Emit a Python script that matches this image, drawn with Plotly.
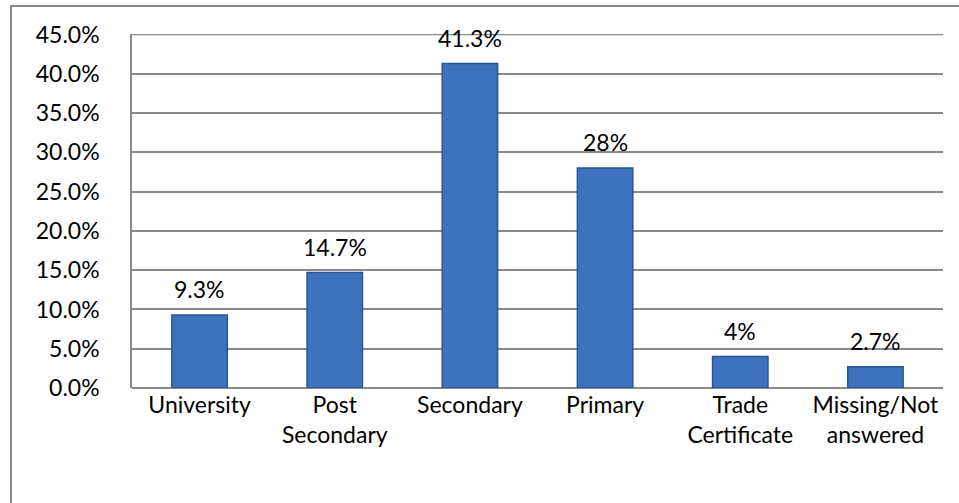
import plotly.graph_objects as go

categories = ["University", "Post<br>Secondary", "Secondary", "Primary", "Trade<br>Certificate", "Missing/Not<br>answered"]
values = [9.3, 14.7, 41.3, 28, 4, 2.7]
value_labels = ["9.3%", "14.7%", "41.3%", "28%", "4%", "2.7%"]
y_ticks = [0, 5, 10, 15, 20, 25, 30, 35, 40, 45]
y_tick_labels = ["0.0%", "5.0%", "10.0%", "15.0%", "20.0%", "25.0%", "30.0%", "35.0%", "40.0%", "45.0%"]

W, H = 959, 503
L, R, T, B = 132, 16, 34, 115
pw, ph = W - L - R, H - T - B

FONT = "Lato, 'Open Sans', sans-serif"
FS = 23
GRID = "#8A8A8A"

fig = go.Figure()
fig.add_trace(go.Bar(
    x=categories, y=values,
    cliponaxis=False,
    marker=dict(color="#3D73BE", line=dict(color="#2A5591", width=1.5)),
))

for c, v, t in zip(categories, values, value_labels):
    fig.add_annotation(x=c, y=v, text=t, showarrow=False, yanchor="bottom",
                       yshift=10, font=dict(size=FS, color="#000000", family=FONT))

def px2x(px):
    return (px - L) / pw

def py2y(py):
    return 1 - (py - T) / ph

border = dict(color="#8C8C8C", width=2)
shapes = [
    dict(type="line", xref="paper", yref="paper", x0=px2x(11), x1=px2x(11), y0=py2y(5), y1=py2y(510), line=border),
    dict(type="line", xref="paper", yref="paper", x0=px2x(10), x1=px2x(965), y0=py2y(6), y1=py2y(6), line=border),
    dict(type="line", xref="paper", yref="y", x0=0, x1=1, y0=y_ticks[-1], y1=y_ticks[-1],
         line=dict(color=GRID, width=1.5), layer="below"),
]

fig.update_layout(
    width=W, height=H,
    margin=dict(l=L, r=R, t=T, b=B, autoexpand=False),
    paper_bgcolor="white", plot_bgcolor="white",
    showlegend=False,
    bargap=0.59,
    font=dict(family=FONT, size=FS, color="#000000"),
    shapes=shapes,
    xaxis=dict(
        showgrid=False, showline=False, ticks="", automargin=False,
        tickfont=dict(size=FS, family=FONT),
        ticklabelstandoff=1,
    ),
    yaxis=dict(
        range=[0, 45.06], tickvals=y_ticks, ticktext=y_tick_labels, automargin=False,
        showgrid=True, gridcolor=GRID, gridwidth=1.5,
        showline=True, linecolor=GRID, linewidth=1.5,
        zeroline=True, zerolinecolor=GRID, zerolinewidth=1.5,
        ticks="", ticklabelstandoff=26,
        tickfont=dict(size=FS, family=FONT),
    ),
)

fig.write_html("out.html", config={"displayModeBar": False},
               post_script="document.body.style.margin='0';document.body.style.overflow='hidden';")
